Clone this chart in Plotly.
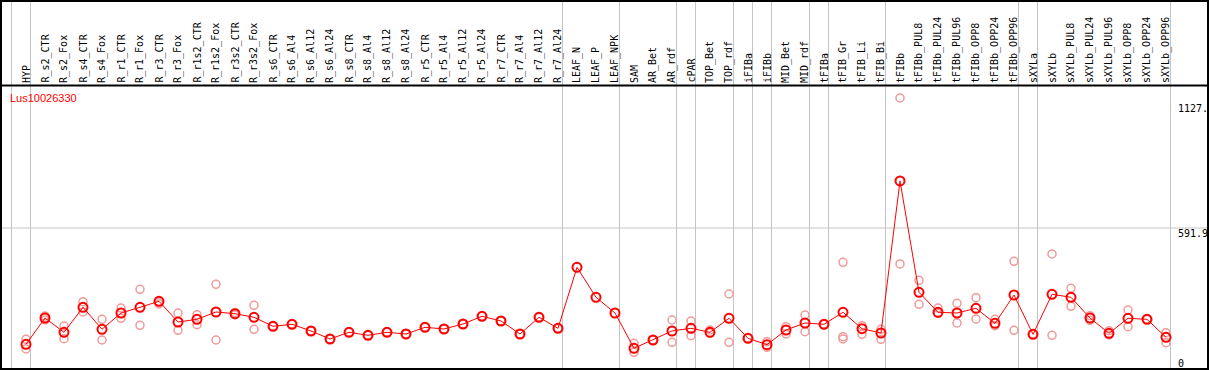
import plotly.graph_objects as go

labels = ["HYP", "R_s2_CTR", "R_s2_Fox", "R_s4_CTR", "R_s4_Fox", "R_r1_CTR", "R_r1_Fox",
          "R_r3_CTR", "R_r3_Fox", "R_r1s2_CTR", "R_r1s2_Fox", "R_r3s2_CTR", "R_r3s2_Fox",
          "R_s6_CTR", "R_s6_Al4", "R_s6_Al12", "R_s6_Al24", "R_s8_CTR", "R_s8_Al4", "R_s8_Al12",
          "R_s8_Al24", "R_r5_CTR", "R_r5_Al4", "R_r5_Al12", "R_r5_Al24", "R_r7_CTR", "R_r7_Al4",
          "R_r7_Al12", "R_r7_Al24", "LEAF_N", "LEAF_P", "LEAF_NPK", "SAM", "AR_Bet", "AR_rdf",
          "cPAR", "TOP_Bet", "TOP_rdf", "iFIBa", "iFIBb", "MID_Bet", "MID_rdf", "tFIBa",
          "tFIB_Gr", "tFIB_Li", "tFIB_Bi", "tFIBb", "tFIBb_PUL8", "tFIBb_PUL24", "tFIBb_PUL96",
          "tFIBb_OPP8", "tFIBb_OPP24", "tFIBb_OPP96", "sXYLa", "sXYLb", "sXYLb_PUL8",
          "sXYLb_PUL24", "sXYLb_PUL96", "sXYLb_OPP8", "sXYLb_OPP24", "sXYLb_OPP96"]

mean_values = [62.4, 182.1, 117.0, 230.9, 130.7, 204.9, 230.9, 258.2, 163.9, 176.2, 209.5,
               201.7, 185.3, 144.4, 153.5, 123.0, 86.5, 117.0, 103.4, 117.0, 109.3, 139.8,
               132.1, 154.8, 189.9, 168.5, 109.3, 185.3, 135.2, 413.0, 276.4, 204.9, 44.2,
               82.0, 123.0, 135.2, 117.0, 180.8, 89.7, 60.6, 127.5, 159.4, 153.5, 208.1,
               133.4, 113.8, 806.0, 299.2, 208.1, 204.9, 226.3, 158.0, 286.9, 107.9, 290.1,
               276.4, 182.1, 112.5, 180.8, 176.2, 94.3]

rep1 = [85.2, 191.0, 145.7, 256.4, 176.2, 227.7, 312.8, 255.0, 204.9, 197.2, 335.6,
        207.0, 240.0, 144.4, 153.5, 123.0, 86.5, 117.0, 103.4, 117.0, 109.3, 139.8,
        132.1, 154.8, 189.9, 168.5, 109.3, 185.3, 135.2, None, None, None, 66.9,
        82.0, 173.0, 168.5, 127.5, 291.4, 89.7, 74.2, 142.5, 195.8, 153.5, 435.8,
        147.1, 130.7, 1184.0, 353.8, 227.7, 249.1, 274.6, 176.2, 440.3, 107.9, 473.6,
        317.4, 192.6, 124.3, 218.6, 176.2, 115.2]
rep2 = [41.0, 173.0, 87.9, 209.5, 82.0, 180.8, 148.9, 245.9, 126.1, 151.6, 82.0,
        196.0, 130.7, 144.4, 153.5, 123.0, 86.5, 117.0, 103.4, 117.0, 109.3, 139.8,
        132.1, 154.8, 189.9, 168.5, 109.3, 185.3, 135.2, None, None, None, 26.0,
        82.0, 71.5, 101.5, 113.8, 71.5, 89.7, 48.7, 109.3, 119.8, 153.5, 97.0,
        107.9, 85.2, 428.1, 244.5, 203.6, 159.4, 177.6, 147.1, 126.1, 107.9, 103.4,
        235.4, 171.7, 104.7, 142.5, 176.2, 69.7]
rep3 = [None] * 43 + [86.5] + [None] * 17

gene_id = "Lus10026330"
axis_labels = ["1127.", "591.9", "0"]
grid_value = 591.9
group_breaks = [-1, 0, 28, 31, 34, 35, 37, 38, 39, 41, 42, 45, 52, 53, 60]

W, H = 1209, 370
PX0, PXS = 26.0, 19.0          # pixel of first category, pixel step
Y0PX, GRIDPX = 358.0, 228.0    # pixel of value 0 and of grid value
R = grid_value * H / (Y0PX - GRIDPX)
ymax = Y0PX / H * R
ymin = ymax - R

xs = list(range(len(labels)))
mono = "DejaVu Sans Mono"

fig = go.Figure()
rep_color = "#f09a9a"
for rep in (rep1, rep2, rep3):
    fig.add_trace(go.Scatter(
        x=xs, y=rep, mode="markers",
        marker=dict(symbol="circle-open", size=8, color=rep_color, line=dict(width=1.5, color=rep_color)),
        hoverinfo="skip"))
fig.add_trace(go.Scatter(
    x=xs, y=mean_values, mode="lines+markers",
    line=dict(color="#ff0000", width=1),
    marker=dict(symbol="circle-open", size=9, color="#ff0000", line=dict(width=2, color="#ff0000"))))

shapes = []
for m in group_breaks:
    xv = m + 4.5 / PXS
    shapes.append(dict(type="line", xref="x", yref="paper", x0=xv, x1=xv, y0=0, y1=1,
                       line=dict(color="#c4c4c4", width=1), layer="below"))
shapes.append(dict(type="line", xref="paper", yref="y", x0=0, x1=1, y0=grid_value, y1=grid_value,
                   line=dict(color="#c4c4c4", width=1), layer="below"))
shapes.append(dict(type="line", xref="paper", yref="paper", x0=0, x1=1,
                   y0=1 - 85.5 / H, y1=1 - 85.5 / H, line=dict(color="black", width=2)))
shapes.append(dict(type="rect", xref="paper", yref="paper", x0=1 / W, x1=1 - 1 / W,
                   y0=1 / H, y1=1 - 1 / H, line=dict(color="black", width=2)))

annotations = []
for j, lab in enumerate(labels):
    annotations.append(dict(x=j, xref="x", y=1 - 84 / H, yref="paper", text=lab, textangle=-90,
                            xanchor="center", yanchor="bottom", showarrow=False, borderpad=0,
                            font=dict(family=mono, size=10, color="black")))
annotations.append(dict(x=9 / W, xref="paper", y=1 - 91 / H, yref="paper", text=gene_id,
                        xanchor="left", yanchor="top", showarrow=False, borderpad=0,
                        font=dict(family="Liberation Sans", size=11, color="#ff0000")))
for txt, top in zip(axis_labels, [102.0, 227.0, 357.0]):
    annotations.append(dict(x=1177 / W, xref="paper", y=1 - top / H, yref="paper", text=txt,
                            xanchor="left", yanchor="top", showarrow=False, borderpad=0,
                            font=dict(family=mono, size=10, color="black")))

fig.update_layout(
    width=W, height=H, margin=dict(l=0, r=0, t=0, b=0, pad=0),
    paper_bgcolor="white", plot_bgcolor="white", showlegend=False,
    xaxis=dict(range=[-PX0 / PXS, (W - PX0) / PXS], visible=False, fixedrange=True),
    yaxis=dict(range=[ymin, ymax], visible=False, fixedrange=True),
    shapes=shapes, annotations=annotations)

fig.write_html("out.html", config={"displayModeBar": False},
               post_script="document.body.style.margin='0';document.body.style.overflow='hidden';")
